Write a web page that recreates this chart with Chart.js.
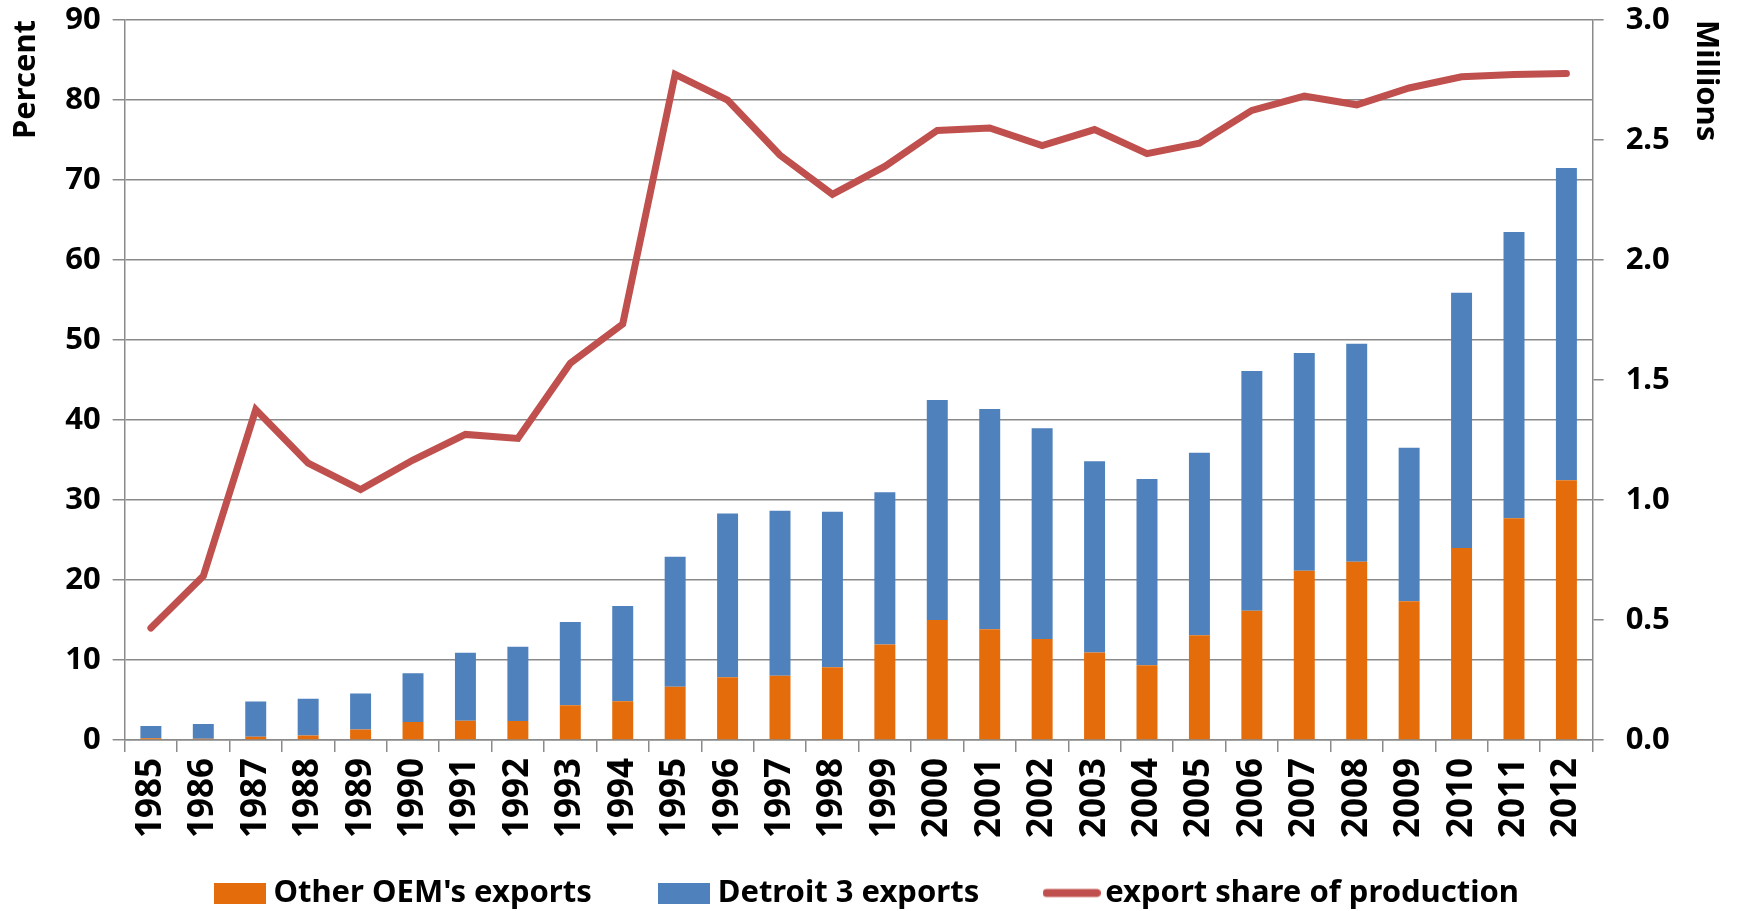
<!DOCTYPE html>
<html>
<head>
<meta charset="utf-8">
<script src="https://cdn.jsdelivr.net/npm/chart.js@4.4.1/dist/chart.umd.min.js"></script>
<style>
  html, body { margin: 0; padding: 0; background: #fff; }
  #wrap { width: 1737px; height: 911px; }
</style>
</head>
<body>
<div id="wrap"><canvas id="chart" width="1737" height="911"></canvas></div>
<script>
const years = [
  "1985", "1986", "1987", "1988", "1989", "1990", "1991", "1992", "1993", "1994",
  "1995", "1996", "1997", "1998", "1999", "2000", "2001", "2002", "2003", "2004",
  "2005", "2006", "2007", "2008", "2009", "2010", "2011", "2012",
];

// millions of vehicles
const otherOemExports = [
  0.007, 0.005, 0.014, 0.019, 0.044, 0.075, 0.080, 0.079, 0.145, 0.161,
  0.222, 0.261, 0.268, 0.303, 0.398, 0.500, 0.461, 0.421, 0.365, 0.311,
  0.436, 0.539, 0.705, 0.743, 0.578, 0.800, 0.924, 1.082,
];
const detroit3Exports = [
  0.051, 0.062, 0.146, 0.153, 0.150, 0.203, 0.284, 0.310, 0.347, 0.397,
  0.542, 0.683, 0.687, 0.648, 0.634, 0.917, 0.918, 0.878, 0.796, 0.776,
  0.761, 0.999, 0.908, 0.908, 0.640, 1.064, 1.193, 1.301,
];

// percent
const exportShare = [
  14.0, 20.5, 41.3, 34.6, 31.3, 35.0, 38.2, 37.7, 47.1, 52.0,
  83.2, 80.0, 73.1, 68.2, 71.7, 76.2, 76.5, 74.3, 76.3, 73.3,
  74.6, 78.7, 80.5, 79.4, 81.5, 82.9, 83.2, 83.3,
];

const ORANGE = "#E46C0A";
const BLUE = "#4F81BD";
const RED = "#C0504D";
const GRID = "#8a8a8a";

Chart.defaults.font.family = "'Noto Sans', Lato, sans-serif";
Chart.defaults.font.weight = "bold";
Chart.defaults.color = "#000";

// small legend icons (Excel-style wide swatches)
function swatch(color) {
  const c = document.createElement("canvas");
  c.width = 52; c.height = 21;
  const g = c.getContext("2d");
  g.fillStyle = color;
  g.fillRect(0, 0, 52, 21);
  return c;
}
function lineIcon(color) {
  const c = document.createElement("canvas");
  c.width = 58; c.height = 21;
  const g = c.getContext("2d");
  g.strokeStyle = color;
  g.lineWidth = 8;
  g.lineCap = "round";
  g.beginPath();
  g.moveTo(4, 10.5);
  g.lineTo(54, 10.5);
  g.stroke();
  return c;
}

// wider gap between legend entries, like the original
const gap = " ".repeat(8);

const noScalePad = (s) => { s.paddingTop = 0; s.paddingBottom = 0; };

new Chart(document.getElementById("chart"), {
  type: "bar",
  data: {
    labels: years,
    datasets: [
      {
        type: "line",
        label: "export share of production",
        data: exportShare,
        yAxisID: "y",
        borderColor: RED,
        backgroundColor: RED,
        borderWidth: 7,
        borderCapStyle: "round",
        pointRadius: 0,
        tension: 0,
        order: 0,
      },
      {
        label: "Other OEM's exports",
        data: otherOemExports,
        yAxisID: "y1",
        backgroundColor: ORANGE,
        categoryPercentage: 1,
        barPercentage: 0.4,
        order: 1,
      },
      {
        label: "Detroit 3 exports",
        data: detroit3Exports,
        yAxisID: "y1",
        backgroundColor: BLUE,
        categoryPercentage: 1,
        barPercentage: 0.4,
        order: 2,
      },
    ],
  },
  options: {
    responsive: false,
    animation: false,
    layout: { padding: { top: 20, right: 0, bottom: -7.5, left: 4 } },
    plugins: {
      tooltip: { enabled: false },
      legend: {
        position: "bottom",
        labels: {
          usePointStyle: true,
          pointStyleWidth: 36,
          boxHeight: 21,
          padding: 10,
          font: { size: 31 },
          generateLabels: () => [
            { text: "Other OEM's exports" + gap, pointStyle: swatch(ORANGE), lineWidth: 0, datasetIndex: 1 },
            { text: "Detroit 3 exports" + gap, pointStyle: swatch(BLUE), lineWidth: 0, datasetIndex: 2 },
            { text: "export share of production", pointStyle: lineIcon(RED), lineWidth: 0, datasetIndex: 0 },
          ],
        },
      },
    },
    scales: {
      x: {
        stacked: true,
        grid: { offset: true, drawOnChartArea: false, color: GRID, lineWidth: 1.5, tickLength: 12 },
        border: { color: GRID, width: 1.5 },
        ticks: { minRotation: 90, maxRotation: 90, padding: 6, font: { size: 35 } },
        afterFit: (s) => { s.paddingLeft = 0; s.paddingRight = 0; s.height = 127.5; },
      },
      y: {
        position: "left",
        min: 0,
        max: 90,
        grid: { color: GRID, lineWidth: 1.5, tickLength: 12 },
        border: { color: GRID, width: 1.5 },
        ticks: { stepSize: 10, padding: 12, font: { size: 31 } },
        title: { display: true, text: "Percent", align: "end", font: { size: 31 }, padding: { top: 4, bottom: 8 } },
        afterFit: noScalePad,
      },
      y1: {
        position: "right",
        stacked: true,
        min: 0,
        max: 3,
        grid: { drawOnChartArea: false, color: GRID, lineWidth: 1.5, tickLength: 11 },
        border: { color: GRID, width: 1.5 },
        ticks: { stepSize: 0.5, padding: 22, font: { size: 31 }, callback: (v) => v.toFixed(1) },
        title: { display: true, text: "Millions", align: "end", font: { size: 31 }, padding: { top: 13, bottom: -5 } },
        afterFit: noScalePad,
      },
    },
  },
});
</script>
</body>
</html>
